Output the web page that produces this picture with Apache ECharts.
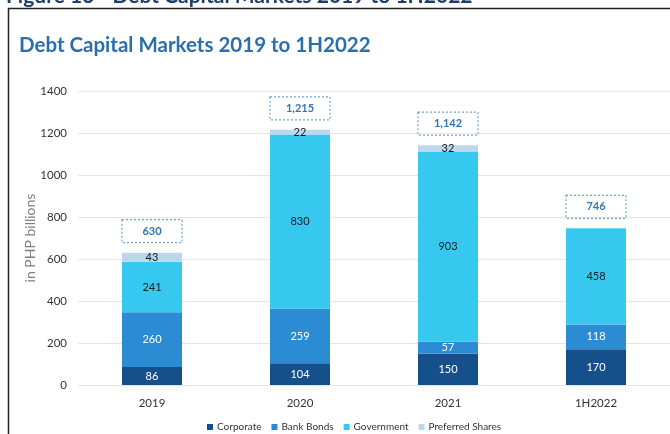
<!DOCTYPE html>
<html>
<head>
<meta charset="utf-8">
<script src="https://cdn.jsdelivr.net/npm/echarts@6/dist/echarts.min.js"></script>
<style>
html, body { margin: 0; padding: 0; background: #fff; }
#chart { width: 670px; height: 434px; }
</style>
</head>
<body>
<div id="chart"></div>
<script>
// data (PHP billions)
var periods = ["2019", "2020", "2021", "1H2022"];
var corporate = [86, 104, 150, 170];
var bankBonds = [260, 259, 57, 118];
var government = [241, 830, 903, 458];
var preferred = [43, 22, 32, 0];
var totals = [630, 1215, 1142, 746];

var colorList = ["#15508a", "#2b8cd4", "#37c8ef", "#bcd6ee"];
var font = "Lato";

function fmt(v) {
	return String(v).replace(/\B(?=(\d{3})+(?!\d))/g, ",");
}

function stackSeries(name, data, color, labelColor) {
	return {
		name: name,
		type: "bar",
		stack: "dcm",
		barWidth: 60,
		itemStyle: { color: color },
		label: {
			show: true,
			position: "inside",
			color: labelColor,
			fontFamily: font,
			fontSize: 11,
			formatter: function(p) { return p.value ? p.value : ""; }
		},
		data: data
	};
}

var myChart = echarts.init(document.getElementById("chart"));
var option = {
	animation: false,
	title: {
		text: "Debt Capital Markets 2019 to 1H2022",
		left: 14,
		top: 30,
		textStyle: {
			color: "#2a6fad",
			fontFamily: font,
			fontSize: 20.5,
			fontWeight: "bold"
		}
	},
	graphic: [
		{
			type: "text",
			left: 6,
			top: -14,
			style: {
				text: "Figure 13 - Debt Capital Markets 2019 to 1H2022",
				fill: "#1f3d6e",
				font: "bold 21px Lato"
			}
		},
		{
			type: "polyline",
			shape: { points: [[8.5, 434], [8.5, 8.5], [670, 8.5]] },
			style: { stroke: "#222", lineWidth: 1.5, fill: null }
		}
	],
	legend: {
		top: 422,
		left: 207,
		padding: 0,
		itemWidth: 6,
		itemHeight: 6,
		itemGap: 10,
		icon: "rect",
		textStyle: { color: "#333", fontFamily: font, fontSize: 10, padding: [0, 0, 0, -1] },
		data: ["Corporate", "Bank Bonds", "Government", "Preferred Shares"]
	},
	grid: { left: 78, top: 91, width: 604, bottom: 49 },
	xAxis: {
		type: "category",
		data: periods,
		axisLine: { show: false },
		axisTick: { show: false },
		axisLabel: { color: "#333", fontFamily: font, fontSize: 11.5, margin: 12 }
	},
	yAxis: {
		type: "value",
		min: 0,
		max: 1400,
		interval: 200,
		name: "in PHP billions",
		nameLocation: "middle",
		nameMoveOverlap: false,
		nameGap: 41,
		nameTextStyle: { color: "#7f7f7f", fontFamily: font, fontSize: 14 },
		axisLabel: {
			color: "#333",
			fontFamily: font,
			fontSize: 11.5,
			margin: 11,
			formatter: function(v) { return String(v); }
		},
		splitLine: { lineStyle: { color: "#e6e6e6", width: 1.2 } }
	},
	series: [
		stackSeries("Corporate", corporate, colorList[0], "#fff"),
		stackSeries("Bank Bonds", bankBonds, colorList[1], "#fff"),
		stackSeries("Government", government, colorList[2], "#1a1a1a"),
		stackSeries("Preferred Shares", preferred, colorList[3], "#1a1a1a"),
		{
			name: "Total",
			type: "bar",
			barWidth: 60,
			barGap: "-100%",
			itemStyle: { color: "rgba(0,0,0,0)" },
			silent: true,
			z: 1,
			label: {
				show: true,
				position: "top",
				distance: 10,
				width: 52,
				lineHeight: 15,
				align: "center",
				padding: [4, 4],
				borderColor: "#6fa3d3",
				borderWidth: 1.2,
				borderType: [2, 2],
				color: "#2e75b6",
				fontFamily: font,
				fontWeight: "bold",
				fontSize: 11,
				formatter: function(p) { return fmt(p.value); }
			},
			data: totals
		}
	]
};
myChart.setOption(option, true);
</script>
</body>
</html>
